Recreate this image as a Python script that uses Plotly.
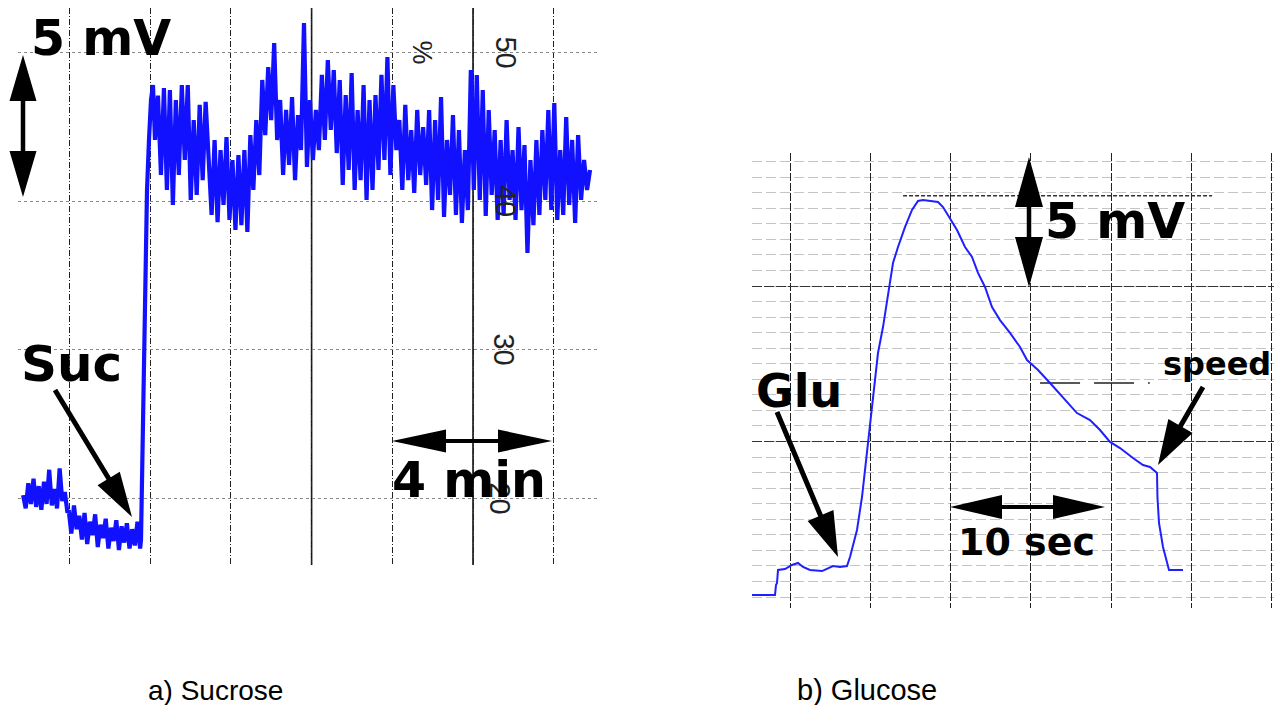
import numpy as np
import plotly.graph_objects as go

# page offset of the plot div inside the html body
OFF = 8
W, H = 1282 - OFF, 705 - OFF

# ---------------- a) Sucrose : time [min], signal [chart %] ----------------
suc_base1_y = [20.2, 19.3, 21.0, 19.6, 21.3, 19.4, 20.8, 19.2, 21.1, 19.6, 21.9, 19.5,
               20.6, 19.3, 22.0, 19.8, 20.4, 19.0]
suc_base2_y = [19.2, 17.6, 19.5, 17.9, 18.8, 17.2, 19.0, 16.9, 18.4, 17.5, 18.9, 16.7,
               18.2, 17.3, 18.6, 16.6, 18.0, 17.1, 18.5, 16.5, 18.1, 17.0, 18.3, 16.6,
               17.9, 16.8, 18.4, 16.6]
suc_rise_t = [1.772, 1.822, 1.846, 1.884, 1.921, 1.970, 2.020, 2.069]
suc_rise_y = [17.17, 25.25, 30.64, 37.37, 40.74, 44.11, 46.80, 47.81]
suc_plateau_y = [
    44.11, 47.1, 41.75, 47.6,
    40.74, 47.47, 39.73, 46.80, 41.75, 47.81,
    42.76, 47.81, 40.07, 45.45, 40.41, 46.47,
    41.41, 46.67, 42.43,
    39.06, 44.11, 38.58, 43.43, 39.73, 44.31, 38.72, 42.76,
    38.05, 43.10, 38.38, 43.43, 37.91,
    44.44, 40.74, 45.45, 41.75,
    48.15, 44.44, 49.02, 45.45, 50.64,
    44.11, 46.80, 41.75, 46.13, 42.43, 47.00, 41.41, 45.79,
    43.43, 51.99,
    42.29, 46.80, 42.76, 46.13,
    43.43, 48.49, 44.11, 49.49, 44.78, 48.82, 43.23,
    48.15, 41.08, 47.14, 42.09, 48.62, 40.74, 46.13, 41.41, 47.81,
    40.07, 46.80, 40.74,
    47.14, 42.09, 48.49, 42.76, 49.70, 41.75, 47.81, 43.43,
    45.45, 40.74, 46.47, 41.41, 44.78, 40.54, 46.13, 41.75, 44.98, 41.08,
    46.13, 39.39, 45.45, 40.07, 47.00, 38.92, 44.11, 40.41, 45.79,
    39.06, 44.78, 38.52, 43.43, 39.39,
    48.82, 40.74,
    48.49, 40.07, 47.47, 38.99, 46.13, 40.41, 44.78, 38.72,
    44.11, 39.06, 45.45, 40.07, 43.43, 38.72, 44.98, 39.39, 43.77, 36.50, 42.76,
    38.38, 44.11, 39.06, 44.78, 40.07,
    46.13, 39.39, 46.60, 38.72,
    43.43, 39.06, 45.66, 39.73, 44.11, 38.52, 44.44, 40.07, 42.76, 40.74, 42.09,
]
suc_tick_vals = [50, 40, 30, 20]
suc_tick_text = ["50", "40", "30", "20"]
suc_tick_t = [10.82, 10.82, 10.77, 10.66]

# ---------------- b) Glucose : time [s], signal [chart divisions] ----------------
glu_t = [-2.366, -0.934, -0.872, -0.809, -0.747, -0.311, 0.125, 0.498, 0.809, 1.245,
         1.993, 2.366, 2.677, 3.113, 3.549, 3.736, 4.172, 4.483, 4.795, 5.106,
         5.355, 5.479, 5.791, 6.102, 6.413, 6.725, 7.160, 7.597, 7.970, 8.281,
         8.904, 9.215, 9.527, 9.963, 10.399, 10.897, 11.333, 11.706, 12.142, 12.578,
         13.076, 13.699, 14.321, 14.757, 15.442, 16.189, 16.999, 17.870, 18.680, 19.303,
         19.925, 20.548, 21.357, 21.980, 22.416, 22.852, 22.880, 22.976, 23.225, 23.474,
         23.599, 24.470]
glu_y = [0.13, 0.13, 0.77, 0.90, 1.74, 1.80, 2.06, 2.19, 1.93, 1.74,
         1.67, 1.87, 1.99, 1.93, 1.99, 2.57, 4.31, 6.43, 9.45, 12.48,
         14.60, 15.69, 17.36, 19.55, 21.48, 22.51, 23.79, 24.89, 25.47, 25.53,
         25.47, 25.40, 25.08, 24.37, 23.60, 22.51, 21.87, 20.84, 19.94, 18.65,
         17.81, 16.98, 16.08, 15.24, 14.60, 13.76, 12.86, 11.83, 11.38, 10.74,
         9.97, 9.58, 8.94, 8.49, 8.36, 7.97, 6.43, 4.76, 3.22, 2.19,
         1.74, 1.74]

# ---------------- time bases of the sucrose record ----------------
t_b1 = np.linspace(-1.15, -0.05, len(suc_base1_y))
t_b2 = np.linspace(-0.02, 1.75, len(suc_base2_y))
t_pl = np.linspace(2.119, 12.90, len(suc_plateau_y))
suc_t = np.concatenate([t_b1, t_b2, suc_rise_t, t_pl])
suc_y = np.concatenate([suc_base1_y, suc_base2_y, suc_rise_y, suc_plateau_y])

BLUE = "#1111ff"

fig = go.Figure()
fig.add_trace(go.Scatter(x=suc_t, y=suc_y, mode="lines",
                         line=dict(color=BLUE, width=4.2), xaxis="x", yaxis="y",
                         showlegend=False, hoverinfo="skip"))
fig.add_trace(go.Scatter(x=glu_t, y=glu_y, mode="lines",
                         line=dict(color="#2020ff", width=2), xaxis="x2", yaxis="y2",
                         showlegend=False, hoverinfo="skip"))


def X(px):
    """page pixel -> paper x"""
    return (px - OFF) / W


def Y(py):
    """page pixel -> paper y"""
    return 1 - (py - OFF) / H


# left panel page px 18..600 x 8..565 ; right panel page px 752..1282 x 153..608
fig.update_layout(
    width=W, height=H, autosize=False,
    margin=dict(l=0, r=0, t=0, b=0),
    paper_bgcolor="white", plot_bgcolor="white",
    xaxis=dict(domain=[X(18), X(600)], range=[-1.276, 13.147], tick0=0, dtick=2,
               showgrid=True, gridcolor="#222", gridwidth=1.2, griddash="6px,2px,1px,2px",
               showticklabels=False, zeroline=False, showline=False, ticks=""),
    yaxis=dict(domain=[Y(565), 1.0], range=[15.488, 52.997], tick0=0, dtick=10,
               showgrid=True, gridcolor="#8a8a8a", gridwidth=1.3, griddash="3px,3px",
               showticklabels=False, zeroline=False, showline=False, ticks=""),
    xaxis2=dict(domain=[X(752), 1.0], range=[-2.366, 30.635], tick0=0, dtick=5,
                anchor="y2",
                showgrid=True, gridcolor="#222", gridwidth=1.3, griddash="8px,2px",
                showticklabels=False, zeroline=False, showline=False, ticks=""),
    yaxis2=dict(domain=[Y(608), Y(153)], range=[-0.707, 28.553], anchor="x2",
                tickmode="array", tickvals=[10, 20],
                showgrid=True, gridcolor="#333", gridwidth=1.4, griddash="10px,2px",
                minor=dict(tick0=0, dtick=1, showgrid=True, gridcolor="#c4c4c4",
                           gridwidth=1, griddash="10px,4px"),
                showticklabels=False, zeroline=False, showline=False, ticks=""),
)

shapes = []
# solid chart-paper lines in the sucrose record
for tv in (6, 10):
    shapes.append(dict(type="line", xref="x", yref="paper", x0=tv, x1=tv,
                       y0=Y(565), y1=1.0, line=dict(color="#111", width=1.6),
                       layer="below"))
# reference lines drawn on the glucose record
shapes.append(dict(type="line", xref="x2", yref="y2", x0=7.04, x1=26.28, y0=25.8, y1=25.8,
                   line=dict(color="#333", width=1.5, dash="4px,2px"), layer="below"))
shapes.append(dict(type="line", xref="x2", yref="y2", x0=15.57, x1=22.4, y0=13.76, y1=13.76,
                   line=dict(color="#222", width=1.6, dash="40px,14px"), layer="below"))


def arrow(x0, y0, x1, y1, hl, hw, sw, both=False):
    dx, dy = x1 - x0, y1 - y0
    L = (dx * dx + dy * dy) ** 0.5
    ux, uy = dx / L, dy / L
    nx, ny = -uy, ux
    e = (x1 - ux * hl, y1 - uy * hl)
    if both:
        s = (x0 + ux * hl, y0 + uy * hl)
        pts = [(x0, y0),
               (s[0] + nx * hw, s[1] + ny * hw), (s[0] + nx * sw / 2, s[1] + ny * sw / 2),
               (e[0] + nx * sw / 2, e[1] + ny * sw / 2), (e[0] + nx * hw, e[1] + ny * hw),
               (x1, y1),
               (e[0] - nx * hw, e[1] - ny * hw), (e[0] - nx * sw / 2, e[1] - ny * sw / 2),
               (s[0] - nx * sw / 2, s[1] - ny * sw / 2), (s[0] - nx * hw, s[1] - ny * hw)]
    else:
        pts = [(x0 + nx * sw / 2, y0 + ny * sw / 2),
               (e[0] + nx * sw / 2, e[1] + ny * sw / 2), (e[0] + nx * hw, e[1] + ny * hw),
               (x1, y1),
               (e[0] - nx * hw, e[1] - ny * hw), (e[0] - nx * sw / 2, e[1] - ny * sw / 2),
               (x0 - nx * sw / 2, y0 - ny * sw / 2)]
    path = "M " + " L ".join(f"{X(p[0]):.5f},{Y(p[1]):.5f}" for p in pts) + " Z"
    return dict(type="path", xref="paper", yref="paper", path=path,
                fillcolor="black", line=dict(width=0), layer="above")


shapes += [
    arrow(23, 55, 23, 197, 46, 13.5, 4.5, both=True),
    arrow(392, 441, 552, 441, 54, 11.5, 4, both=True),
    arrow(55, 390, 132, 517, 45, 13, 5),
    arrow(1029, 157, 1029, 287, 50, 14, 4.5, both=True),
    arrow(950, 507, 1105, 507, 52, 12, 4, both=True),
    arrow(777, 412, 838, 557, 45, 14, 5),
    arrow(1203, 387, 1158, 465, 45, 14, 5),
]
fig.update_layout(shapes=shapes)

BOLD = "DejaVu Sans"
ann = []
# chart-paper scale printed on the sucrose record
for tv, tt, tx in zip(suc_tick_vals, suc_tick_text, suc_tick_t):
    ann.append(dict(xref="x", yref="y", x=tx, y=tv, text=tt, showarrow=False,
                    textangle=90, font=dict(family="Liberation Sans Narrow, Liberation Sans",
                                            size=29, color="#222")))
ann.append(dict(xref="x", yref="y", x=8.76, y=50, text="%", showarrow=False, textangle=90,
                font=dict(family="Liberation Sans Narrow, Liberation Sans", size=27, color="#222")))


def label(px, py, txt, size, family=BOLD, bold=True, color="black", yanchor="middle"):
    return dict(xref="paper", yref="paper", x=X(px), y=Y(py), xanchor="center",
                yanchor=yanchor, showarrow=False,
                text=f"<b>{txt}</b>" if bold else txt,
                font=dict(family=family, size=size, color=color))


ann += [
    label(101, 8, "5 mV", 49, yanchor="top"),
    label(469, 480, "4 min", 49),
    label(71, 364, "Suc", 50),
    label(1115, 221, "5 mV", 49),
    label(799, 391, "Glu", 46),
    label(1217, 364, "speed", 32),
    label(1026, 542, "10 sec", 38),
    label(216, 690, "a) Sucrose", 28, family="Liberation Sans", bold=False),
    label(867, 690, "b) Glucose", 29, family="Liberation Sans", bold=False),
]
fig.update_layout(annotations=ann)

fig.write_html("out.html")
